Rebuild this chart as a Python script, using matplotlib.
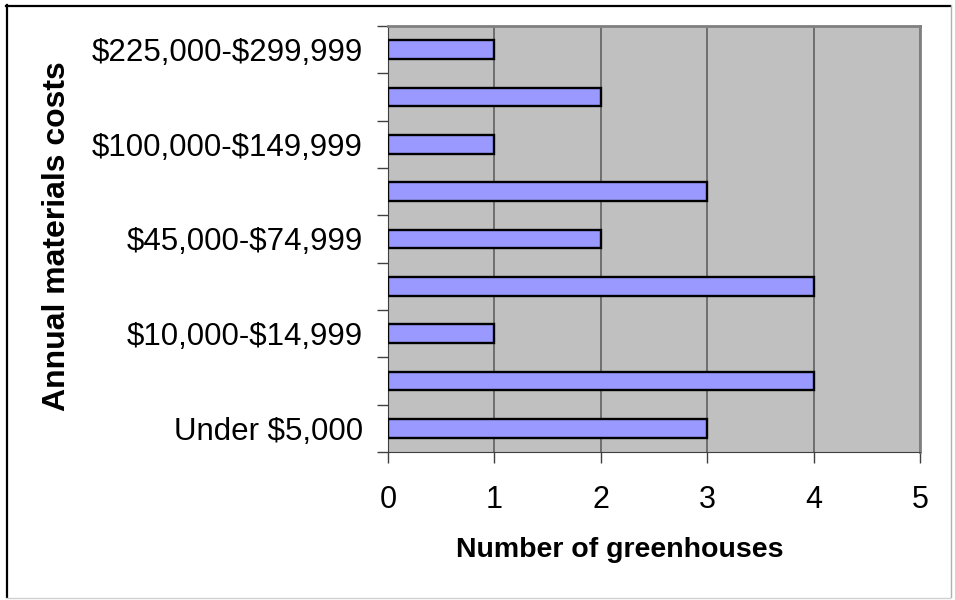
import matplotlib
matplotlib.use('Agg')
import matplotlib.pyplot as plt
from matplotlib.lines import Line2D

# Cost brackets, bottom to top
categories = ['Under $5,000', '$5,000-$9,999', '$10,000-$14,999', '$15,000-$44,999',
              '$45,000-$74,999', '$75,000-$99,999', '$100,000-$149,999',
              '$150,000-$224,999', '$225,000-$299,999']
counts = [3, 4, 1, 4, 2, 3, 1, 2, 1]
# only every other label is printed on the axis
shown_labels = [c if i % 2 == 0 else '' for i, c in enumerate(categories)]
x_ticks = [0, 1, 2, 3, 4, 5]

plt.rcParams['font.family'] = ['Liberation Sans', 'DejaVu Sans']
plt.rcParams['text.parse_math'] = False

fig = plt.figure(figsize=(9.55, 6), dpi=100)
W, H = 955, 600
ax = fig.add_axes([388 / W, 1 - 452 / H, (920 - 388) / W, (452 - 26) / H])

ax.set_facecolor('#C0C0C0')
ax.barh(range(len(categories)), counts, height=0.4, color='#9999FF',
        edgecolor='black', linewidth=1.7, zorder=3)

ax.set_xlim(0, 5)
ax.set_ylim(-0.5, len(categories) - 0.5)
ax.set_xticks(x_ticks)
ax.xaxis.grid(True, color='#606060', linewidth=1.2, zorder=1)

# y ticks: marks between categories, labels at category centres
ax.set_yticks([i - 0.5 for i in range(len(categories) + 1)])
ax.set_yticklabels([])
ax.set_yticks(range(len(categories)), minor=True)
ax.set_yticklabels(shown_labels, minor=True, fontsize=22.5)
ax.tick_params(axis='y', which='minor', length=0, pad=18)
ax.tick_params(axis='y', which='major', length=8, width=1, color='#404040')
ax.tick_params(axis='x', length=8, width=1, color='#404040', labelsize=22, pad=16)

for side in ['top', 'right']:
    ax.spines[side].set_color('#808080')
    ax.spines[side].set_linewidth(2)
ax.spines['left'].set_color('#404040')
ax.spines['bottom'].set_color('#404040')

ax.set_xlabel('Number of greenhouses', fontsize=20.5, fontweight='bold')
ax.set_ylabel('Annual materials costs', fontsize=23, fontweight='bold')
ax.xaxis.set_label_coords(0.435, -0.2)
ax.yaxis.set_label_coords(-0.594, 0.506)

# outer chart border: dark on left/top, light on right/bottom
def fx(px):
    return px / W

def fy(py):
    return 1 - py / H

fig.add_artist(Line2D([fx(6.5), fx(6.5)], [fy(5), fy(597)], color='black', lw=1.6, zorder=10))
fig.add_artist(Line2D([fx(6), fx(950)], [fy(5.5), fy(5.5)], color='black', lw=1.6, zorder=10))
fig.add_artist(Line2D([fx(950.5), fx(950.5)], [fy(5), fy(597)], color='#B0B0B0', lw=1, zorder=10))
fig.add_artist(Line2D([fx(6), fx(950)], [fy(597.5), fy(597.5)], color='#D0D0D0', lw=1, zorder=10))

fig.savefig('out.png', dpi=100)
